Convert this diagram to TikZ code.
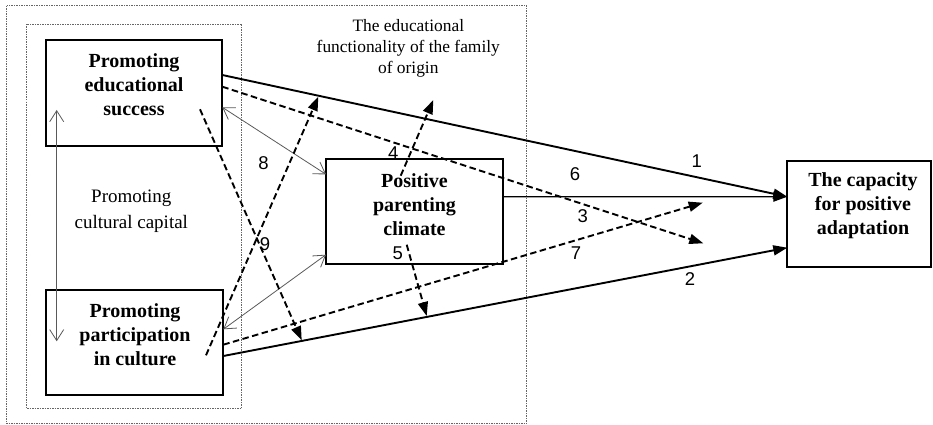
\documentclass[tikz,border=0pt]{standalone}
\usepackage{fontspec}
\setmainfont{Liberation Serif}
\newfontfamily\numfont{Liberation Sans}
\usetikzlibrary{arrows.meta,calc}
\begin{document}
\begin{tikzpicture}[x=1pt,y=-1pt,
 box/.style={draw, line width=1.9pt, rectangle, outer sep=0pt, inner sep=0pt},
 boxtext/.style={font=\fontsize{20}{24}\selectfont\bfseries, align=center, inner sep=0pt},
 plaintext/.style={align=center, inner sep=0pt},
 num/.style={font=\numfont\fontsize{18.5}{20}\selectfont, inner sep=0pt},
 frame/.style={draw=black!60, line width=0.7pt, dash pattern=on 1.5pt off 1pt},
 solidarrow/.style={line width=1.9pt, -{Triangle[length=14pt,width=10pt]}},
 dasharrow/.style={line width=1.9pt, dash pattern=on 6.5pt off 3.5pt, -{Triangle[length=14pt,width=10pt]}},
 thinarrow/.style={draw=black!65, line width=0.8pt, {Straight Barb[length=11pt,width=14pt]}-{Straight Barb[length=11pt,width=14pt]}},
]
\useasboundingbox (0,0) rectangle (933,425);

% frames
\draw[frame] (6.7,5.7) rectangle (526.7,423.7);
\draw[frame] (26.7,24) rectangle (241.7,408.7);

% boxes
\node[box, minimum width=176.6pt, minimum height=105.7pt] (es) at (134,92.85) {};
\node[box, minimum width=177.3pt, minimum height=105pt] (pc) at (134.65,342.8) {};
\node[box, minimum width=177.3pt, minimum height=105.3pt] (ppc) at (414.65,211.65) {};
\node[box, minimum width=143.7pt, minimum height=105.7pt] (cap) at (859.15,213.85) {};

% box texts
\node[boxtext] (est) at (134,84.5) {Promoting\\educational\\success};
\node[boxtext] (pct) at (135,334.6) {Promoting\\participation\\in culture};
\node[boxtext] (ppct) at (414.5,205) {Positive\\parenting\\climate};
\node[boxtext] (capt) at (863,206) {The capacity\\for positive\\adaptation};

% free texts
\node[plaintext, font=\fontsize{19}{25.7}\selectfont] (cc) at (131.3,211) {Promoting\\cultural capital};
\node[plaintext, font=\fontsize{17.4}{21}\selectfont] (ef) at (408.3,48) {The educational\\functionality of the family\\of origin};

% endpoints
\coordinate (l1s) at ([yshift=-35pt]es.north east);
\coordinate (l1e) at ([yshift=17.15pt]cap.west);
\coordinate (l2s) at ([yshift=-65.7pt]pc.north east);
\coordinate (l2e) at ([yshift=-33.85pt]cap.west);
\coordinate (d3s) at ([yshift=-46.7pt]es.north east);
\coordinate (d3e) at (703.3,243.3);
\coordinate (d7s) at ([yshift=-54.4pt]pc.north east);
\coordinate (d7e) at (702.7,202.7);
\coordinate (d4s) at (400.7,175.7);
\coordinate (d4e) at (433.3,100);
\coordinate (d5s) at (406.7,244.7);
\coordinate (d5e) at (426.7,316);
\coordinate (d8s) at (206,355.3);
\coordinate (d8e) at (318.3,96.7);
\coordinate (d9s) at (200,109.3);
\coordinate (d9e) at (301.7,340.3);
\coordinate (v1) at (56.7,110);
\coordinate (v2) at (56.7,341.3);

% thin double arrows
\draw[thinarrow] (v1) -- (v2);
\draw[thinarrow] ([yshift=-67.3pt]es.north east) -- ([yshift=-15.3pt]ppc.north west);
\draw[thinarrow] ([yshift=-39pt]pc.north east) -- ([yshift=-95.7pt]ppc.north west);

% solid arrows
\draw[solidarrow] (l1s) -- (l1e);
\draw[solidarrow] (l2s) -- (l2e);
\draw[line width=1.1pt, -{Triangle[length=14pt,width=10pt]}] ([yshift=14.95pt]ppc.east) -- ([yshift=17.15pt]cap.west);

% dashed arrows
\draw[dasharrow] (d3s) -- (d3e);
\draw[dasharrow] (d7s) -- (d7e);
\draw[dasharrow] (d4s) -- (d4e);
\draw[dasharrow] (d5s) -- (d5e);
\draw[dasharrow] (d8s) -- (d8e);
\draw[dasharrow] (d9s) -- (d9e);

% numbers
\node[num] (n1) at (696.7,161) {1};
\node[num] (n2) at (690,279.3) {2};
\node[num] (n3) at (582.7,215.7) {3};
\node[num] (n4) at (393.3,153.3) {4};
\node[num] (n5) at (397.7,253) {5};
\node[num] (n6) at (575,174.3) {6};
\node[num] (n7) at (576,252.7) {7};
\node[num] (n8) at (263.5,163.3) {8};
\node[num] (n9) at (265,244) {9};
\end{tikzpicture}
\end{document}
